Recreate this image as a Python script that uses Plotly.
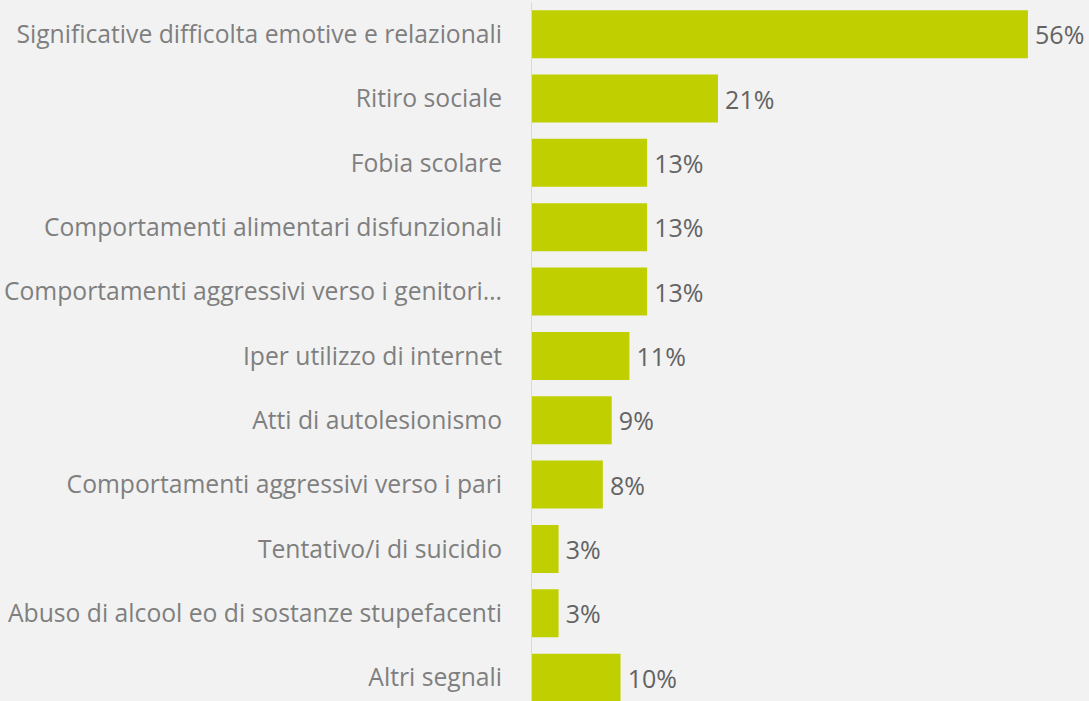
import plotly.graph_objects as go

categories = [
    "Significative difficolta emotive e relazionali",
    "Ritiro sociale",
    "Fobia scolare",
    "Comportamenti alimentari disfunzionali",
    "Comportamenti aggressivi verso i genitori…",
    "Iper utilizzo di internet",
    "Atti di autolesionismo",
    "Comportamenti aggressivi verso i pari",
    "Tentativo/i di suicidio",
    "Abuso di alcool eo di sostanze stupefacenti",
    "Altri segnali",
]
values = [56, 21, 13, 13, 13, 11, 9, 8, 3, 3, 10]
labels = [f"{v}%" for v in values]

fig = go.Figure(go.Bar(
    x=values,
    y=categories,
    orientation="h",
    marker=dict(color="#c0cf00", line=dict(width=0)),
    text=labels,
    texttemplate="\u2009%{text}",
    textposition="outside",
    constraintext="none",
    cliponaxis=False,
    textfont=dict(family="Open Sans", size=25, color="#636363"),
    width=0.746,
))

fig.update_layout(
    width=1089, height=701,
    margin=dict(l=532, r=0, t=2, b=0),
    paper_bgcolor="#f2f2f2",
    plot_bgcolor="#f2f2f2",
    showlegend=False,
    font=dict(family="Open Sans", size=24.7, color="#7f7f7f"),
)
fig.update_xaxes(range=[0, 62.9], visible=False, showgrid=False, zeroline=False)
fig.update_yaxes(
    type="category",
    categoryorder="array", categoryarray=categories,
    range=[10.363, -0.5],
    showgrid=False, zeroline=False,
    showline=True, linecolor="#d9d9d9", linewidth=1,
    ticks="", ticklabelstandoff=24,
    tickfont=dict(family="Open Sans", size=24.7, color="#7f7f7f"),
)

fig.write_html(
    "out.html",
    config={"displayModeBar": False},
    post_script="document.body.style.margin='0';document.body.style.background='#f2f2f2';",
)
